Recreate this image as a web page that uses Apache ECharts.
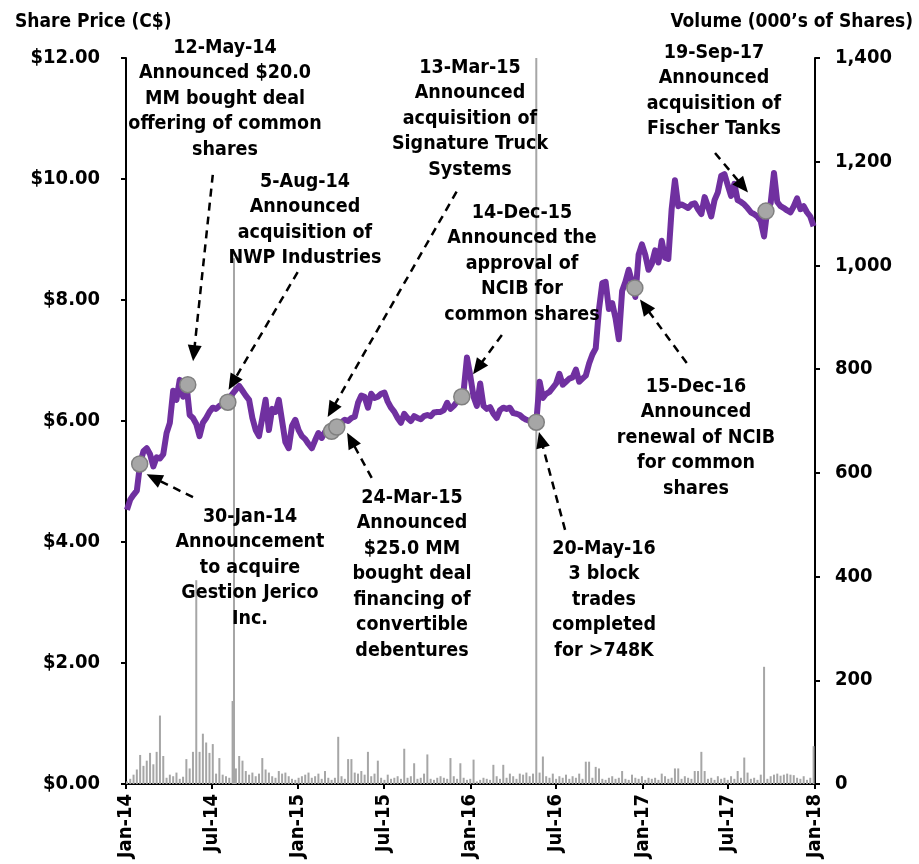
<!DOCTYPE html>
<html>
<head>
<meta charset="utf-8">
<title>Share price and volume</title>
<script src="https://cdn.jsdelivr.net/npm/echarts@6/dist/echarts.min.js"></script>
<style>
html, body { margin: 0; padding: 0; background: #fff; }
#chart { width: 919px; height: 864px; }
</style>
</head>
<body>
<div id="chart"></div>
<script>
// weekly closes, one value per Friday starting 3-Jan-2014
var priceWeekly = [
    4.53, 4.70, 4.78, 4.85, 5.30, 5.50, 5.55, 5.45, 5.25, 5.40,
    5.38, 5.45, 5.80, 5.97, 6.50, 6.35, 6.68, 6.40, 6.62, 6.10,
    6.05, 5.95, 5.75, 5.97, 6.05, 6.15, 6.22, 6.20, 6.25, 6.28,
    6.32, 6.38, 6.45, 6.52, 6.58, 6.50, 6.42, 6.35, 6.05, 5.85,
    5.75, 6.05, 6.35, 5.85, 6.20, 6.15, 6.35, 6.00, 5.65, 5.55,
    5.92, 6.02, 5.85, 5.75, 5.70, 5.62, 5.55, 5.68, 5.80, 5.72,
    5.82, 5.85, 5.83, 5.88, 5.92, 5.98, 6.02, 6.00, 6.05, 6.07,
    6.30, 6.42, 6.40, 6.22, 6.45, 6.38, 6.40, 6.45, 6.47, 6.32,
    6.22, 6.15, 6.05, 5.97, 6.12, 6.05, 6.00, 6.08, 6.05, 6.03,
    6.08, 6.10, 6.08, 6.14, 6.15, 6.15, 6.18, 6.30, 6.20, 6.25,
    6.32, 6.38, 6.50, 7.05, 6.75, 6.40, 6.25, 6.62, 6.25, 6.20,
    6.23, 6.12, 6.05, 6.18, 6.22, 6.20, 6.22, 6.13, 6.12, 6.10,
    6.05, 6.02, 6.00, 5.96, 5.98, 6.65, 6.38, 6.45, 6.48, 6.55,
    6.62, 6.78, 6.60, 6.65, 6.70, 6.72, 6.85, 6.65, 6.70, 6.75,
    6.95, 7.10, 7.20, 7.85, 8.28, 8.30, 7.85, 7.95, 7.70, 7.35,
    8.15, 8.30, 8.50, 8.30, 8.05, 8.75, 8.92, 8.75, 8.50, 8.60,
    8.82, 8.62, 8.98, 8.70, 8.68, 9.50, 9.98, 9.55, 9.58, 9.55,
    9.52, 9.58, 9.60, 9.50, 9.42, 9.70, 9.55, 9.38, 9.65, 9.78,
    10.05, 10.08, 9.90, 9.72, 9.92, 9.65, 9.62, 9.58, 9.52, 9.45,
    9.42, 9.38, 9.30, 9.05, 9.50, 9.60, 10.10, 9.62, 9.55, 9.52,
    9.48, 9.45, 9.55, 9.68, 9.50, 9.55, 9.45, 9.38, 9.22
];

// volume (000's of shares), same weeks
var volumeWeekly = [
    5, 10, 18, 28, 56, 35, 45, 60, 38, 62,
    132, 54, 12, 18, 15, 22, 10, 14, 48, 30,
    62, 393, 62, 97, 80, 60, 77, 20, 50, 18,
    15, 12, 160, 30, 54, 45, 25, 18, 22, 15,
    20, 50, 28, 22, 15, 12, 25, 20, 22, 15,
    10, 8, 12, 15, 18, 22, 12, 15, 20, 10,
    25, 12, 8, 12, 91, 15, 10, 48, 48, 22,
    20, 25, 18, 62, 15, 20, 45, 12, 8, 18,
    10, 12, 15, 10, 68, 12, 15, 40, 10, 12,
    20, 57, 10, 8, 12, 15, 12, 10, 50, 15,
    10, 40, 12, 8, 10, 47, 5, 8, 12, 10,
    8, 37, 15, 10, 37, 12, 20, 15, 10, 20,
    18, 22, 15, 20, 1400, 22, 53, 15, 12, 20,
    10, 15, 12, 18, 10, 15, 12, 20, 10, 43,
    43, 12, 33, 30, 10, 8, 12, 15, 10, 12,
    25, 10, 8, 18, 12, 10, 15, 8, 12, 10,
    12, 8, 20, 15, 10, 12, 30, 30, 10, 15,
    12, 10, 25, 25, 62, 25, 10, 12, 8, 15,
    10, 12, 8, 15, 10, 25, 12, 51, 22, 10,
    12, 8, 18, 226, 10, 15, 18, 20, 16, 18,
    20, 18, 17, 12, 10, 15, 8, 12, 73
];

// single-day volume not on a Friday
var volumeExtra = [['2014-08-18', 1014]];

var tickLabels = ['Jan-14', 'Jul-14', 'Jan-15', 'Jul-15', 'Jan-16', 'Jul-16', 'Jan-17', 'Jul-17', 'Jan-18'];
var tickDates = ['2014-01-01', '2014-07-01', '2015-01-01', '2015-07-01', '2016-01-01', '2016-07-01', '2017-01-01', '2017-07-01', '2018-01-01'];

var events = [
    ['2014-01-30', 5.29], ['2014-05-12', 6.60], ['2014-08-05', 6.31],
    ['2015-03-13', 5.83], ['2015-03-24', 5.90], ['2015-12-14', 6.40],
    ['2016-05-20', 5.98], ['2016-12-15', 8.20], ['2017-09-19', 9.47]
];

// dashed arrows: [tail date, tail price, head date, head price]
var arrows = [
    ['2014-05-23', 4.74, '2014-03-01', 5.06],
    ['2014-07-04', 10.07, '2014-05-25', 7.12],
    ['2014-12-31', 8.46, '2014-08-15', 6.63],
    ['2015-12-03', 9.79, '2015-03-13', 6.18],
    ['2015-06-06', 5.06, '2015-04-23', 5.69],
    ['2016-03-08', 7.42, '2016-01-17', 6.88],
    ['2016-07-20', 4.20, '2016-05-30', 5.69],
    ['2017-04-04', 6.96, '2017-01-05', 7.90],
    ['2017-06-03', 10.43, '2017-08-01', 9.88]
];

// annotation blocks: [centre x, top y, text]
var notes = [
    [250, 504, '30-Jan-14\nAnnouncement\nto acquire\nGestion Jerico\nInc.'],
    [225, 35, '12-May-14\nAnnounced $20.0\nMM bought deal\noffering of common\nshares'],
    [305, 169, '5-Aug-14\nAnnounced\nacquisition of\nNWP Industries'],
    [470, 55, '13-Mar-15\nAnnounced\nacquisition of\nSignature Truck\nSystems'],
    [412, 485, '24-Mar-15\nAnnounced\n$25.0 MM\nbought deal\nfinancing of\nconvertible\ndebentures'],
    [522, 200, '14-Dec-15\nAnnounced the\napproval of\nNCIB for\ncommon shares'],
    [604, 536, '20-May-16\n3 block\ntrades\ncompleted\nfor >748K'],
    [696, 374, '15-Dec-16\nAnnounced\nrenewal of NCIB\nfor common\nshares'],
    [714, 40, '19-Sep-17\nAnnounced\nacquisition of\nFischer Tanks']
];

var FONT = '"DejaVu Sans Condensed", "Liberation Sans", sans-serif';

function weekDate(i) {
    return new Date(2014, 0, 3 + 7 * i).getTime();
}
function toTime(s) {
    var p = s.split('-');
    return new Date(+p[0], +p[1] - 1, +p[2]).getTime();
}

var priceData = priceWeekly.map(function (v, i) { return [weekDate(i), v]; });
var volumeData = volumeWeekly.map(function (v, i) { return [weekDate(i), v]; });
volumeExtra.forEach(function (d) { volumeData.push([toTime(d[0]), d[1]]); });
var tickValues = tickDates.map(toTime);

var arrowData = arrows.map(function (a) {
    return [{ coord: [toTime(a[0]), a[1]] }, { coord: [toTime(a[2]), a[3]] }];
});

var graphics = notes.map(function (n) {
    return {
        type: 'text',
        x: n[0],
        y: n[1],
        z: 100,
        style: {
            text: n[2],
            textAlign: 'center',
            textVerticalAlign: 'top',
            font: 'bold 19.5px ' + FONT,
            lineHeight: 25.5,
            fill: '#000'
        }
    };
});
graphics.push({
    type: 'text', x: 15, y: 22,
    style: { text: 'Share Price (C$)', textAlign: 'left', textVerticalAlign: 'middle', font: 'bold 19px ' + FONT, fill: '#000' }
});
graphics.push({
    type: 'text', x: 913, y: 22,
    style: { text: 'Volume (000\u2019s of Shares)', textAlign: 'right', textVerticalAlign: 'middle', font: 'bold 19px ' + FONT, fill: '#000' }
});

var labelStyle = {
    fontFamily: FONT,
    fontWeight: 'bold',
    fontSize: 20,
    color: '#000'
};

var myChart = echarts.init(document.getElementById('chart'));
var option = {
    animation: false,
    backgroundColor: '#fff',
    grid: {
        left: 126,
        right: 104,
        top: 58,
        bottom: 80,
        outerBoundsMode: 'none'
    },
    xAxis: {
        type: 'value',
        min: tickValues[0],
        max: tickValues[tickValues.length - 1],
        axisLine: { lineStyle: { color: '#000', width: 2 } },
        axisTick: { show: true, length: 5, lineStyle: { color: '#000', width: 2 }, customValues: tickValues },
        splitLine: { show: false },
        axisLabel: Object.assign({
            rotate: 90,
            margin: 10,
            customValues: tickValues,
            formatter: function (v) {
                var k = tickValues.indexOf(v);
                return k >= 0 ? tickLabels[k] : '';
            }
        }, labelStyle)
    },
    yAxis: [
        {
            type: 'value',
            min: 0,
            max: 12,
            interval: 2,
            axisLine: { show: true, lineStyle: { color: '#000', width: 2 } },
            axisTick: { show: true, length: 5, lineStyle: { color: '#000', width: 2 } },
            splitLine: { show: false },
            axisLabel: Object.assign({
                margin: 26,
                formatter: function (v) { return '$' + v.toFixed(2); }
            }, labelStyle)
        },
        {
            type: 'value',
            min: 0,
            max: 1400,
            interval: 200,
            position: 'right',
            axisLine: { show: true, lineStyle: { color: '#000', width: 2 } },
            axisTick: { show: true, length: 5, lineStyle: { color: '#000', width: 2 } },
            splitLine: { show: false },
            axisLabel: Object.assign({
                margin: 20,
                formatter: function (v) { return v.toLocaleString('en-US'); }
            }, labelStyle)
        }
    ],
    series: [
        {
            name: 'Volume',
            type: 'bar',
            yAxisIndex: 1,
            barWidth: 2,
            clip: true,
            itemStyle: { color: '#A6A6A6' },
            data: volumeData,
            z: 1
        },
        {
            name: 'Share Price',
            type: 'line',
            yAxisIndex: 0,
            symbol: 'none',
            lineStyle: { color: '#7030A0', width: 6, join: 'round' },
            data: priceData,
            z: 2
        },
        {
            name: 'Events',
            type: 'scatter',
            yAxisIndex: 0,
            symbol: 'circle',
            symbolSize: 16,
            itemStyle: { color: '#A6A6A6', borderColor: '#808080', borderWidth: 1.5, opacity: 1 },
            data: events.map(function (e) { return [toTime(e[0]), e[1]]; }),
            z: 3,
            markLine: {
                silent: true,
                symbol: ['none', 'triangle'],
                symbolSize: [14, 16],
                label: { show: false },
                lineStyle: { color: '#000', width: 2.5, type: [8, 6] },
                emphasis: { disabled: true },
                data: arrowData,
                z: 5
            }
        }
    ],
    graphic: graphics
};

myChart.setOption(option);

window.addEventListener('resize', function () {
    myChart.resize();
});
</script>
</body>
</html>
